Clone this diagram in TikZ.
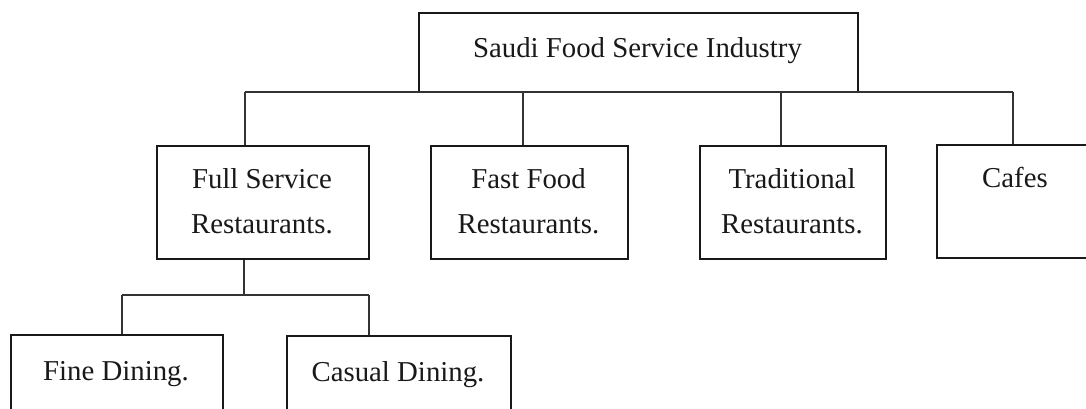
\documentclass[tikz,border=0pt]{standalone}
\usepackage{fontspec}
\setmainfont{Liberation Serif}
\begin{document}
\begin{tikzpicture}[x=1pt,y=-1pt,
  box/.style={draw=black!90,line width=1.6pt,fill=none,rectangle,inner sep=0pt,anchor=north west},
  txt/.style={inner sep=0pt,anchor=base,text=black!90,font=\fontsize{28.8}{34}\selectfont},
  conn/.style={draw=black!80,line width=1.5pt}]
\useasboundingbox (0,0) rectangle (1086,408);
\fill[white] (0,0) rectangle (1086,408);
\clip (0,0) rectangle (1086,408);
% boxes
\node[box,minimum width=439pt,minimum height=79pt] (top) at (418,12) {};
\node[box,minimum width=212pt,minimum height=113pt] (full) at (156,145) {};
\node[box,minimum width=197pt,minimum height=113pt] (fast) at (430,145) {};
\node[box,minimum width=186pt,minimum height=113pt] (trad) at (699,145) {};
\node[box,minimum width=170pt,minimum height=113pt] (cafe) at (936,144) {};
\node[box,minimum width=212pt,minimum height=120pt] (fine) at (10,334) {};
\node[box,minimum width=224pt,minimum height=120pt] (casual) at (286,335) {};
% texts
\node[txt] (topT) at (637.5,57) {Saudi Food Service Industry};
\node[txt] (fullA) at (262,188) {Full Service};
\node[txt] (fullB) at (262,233) {Restaurants.};
\node[txt] (fastA) at (528.5,188) {Fast Food};
\node[txt] (fastB) at (528.5,233) {Restaurants.};
\node[txt] (tradA) at (792,188) {Traditional};
\node[txt] (tradB) at (792,233) {Restaurants.};
\node[txt] (cafeA) at (1015,187) {Cafes};
\node[txt] (fineA) at (116,380) {Fine Dining.};
\node[txt] (casualA) at (398,381) {Casual Dining.};
% connectors
\coordinate (bL) at (245,92);
\coordinate (jFast) at (523,92);
\coordinate (jTrad) at (781,92);
\coordinate (bR) at (1013,92);
\draw[conn] (bL) -- (bR);
\draw[conn] (bL) -- (bL |- full.north);
\draw[conn] (jFast) -- (jFast |- fast.north);
\draw[conn] (jTrad) -- (jTrad |- trad.north);
\draw[conn] (bR) -- (bR |- cafe.north);
\coordinate (sJ) at (244,295);
\coordinate (sL) at (122,295);
\coordinate (sR) at (369,295);
\draw[conn] (sJ |- full.south) -- (sJ);
\draw[conn] (sL) -- (sR);
\draw[conn] (sL) -- (sL |- fine.north);
\draw[conn] (sR) -- (sR |- casual.north);
\end{tikzpicture}
\end{document}
